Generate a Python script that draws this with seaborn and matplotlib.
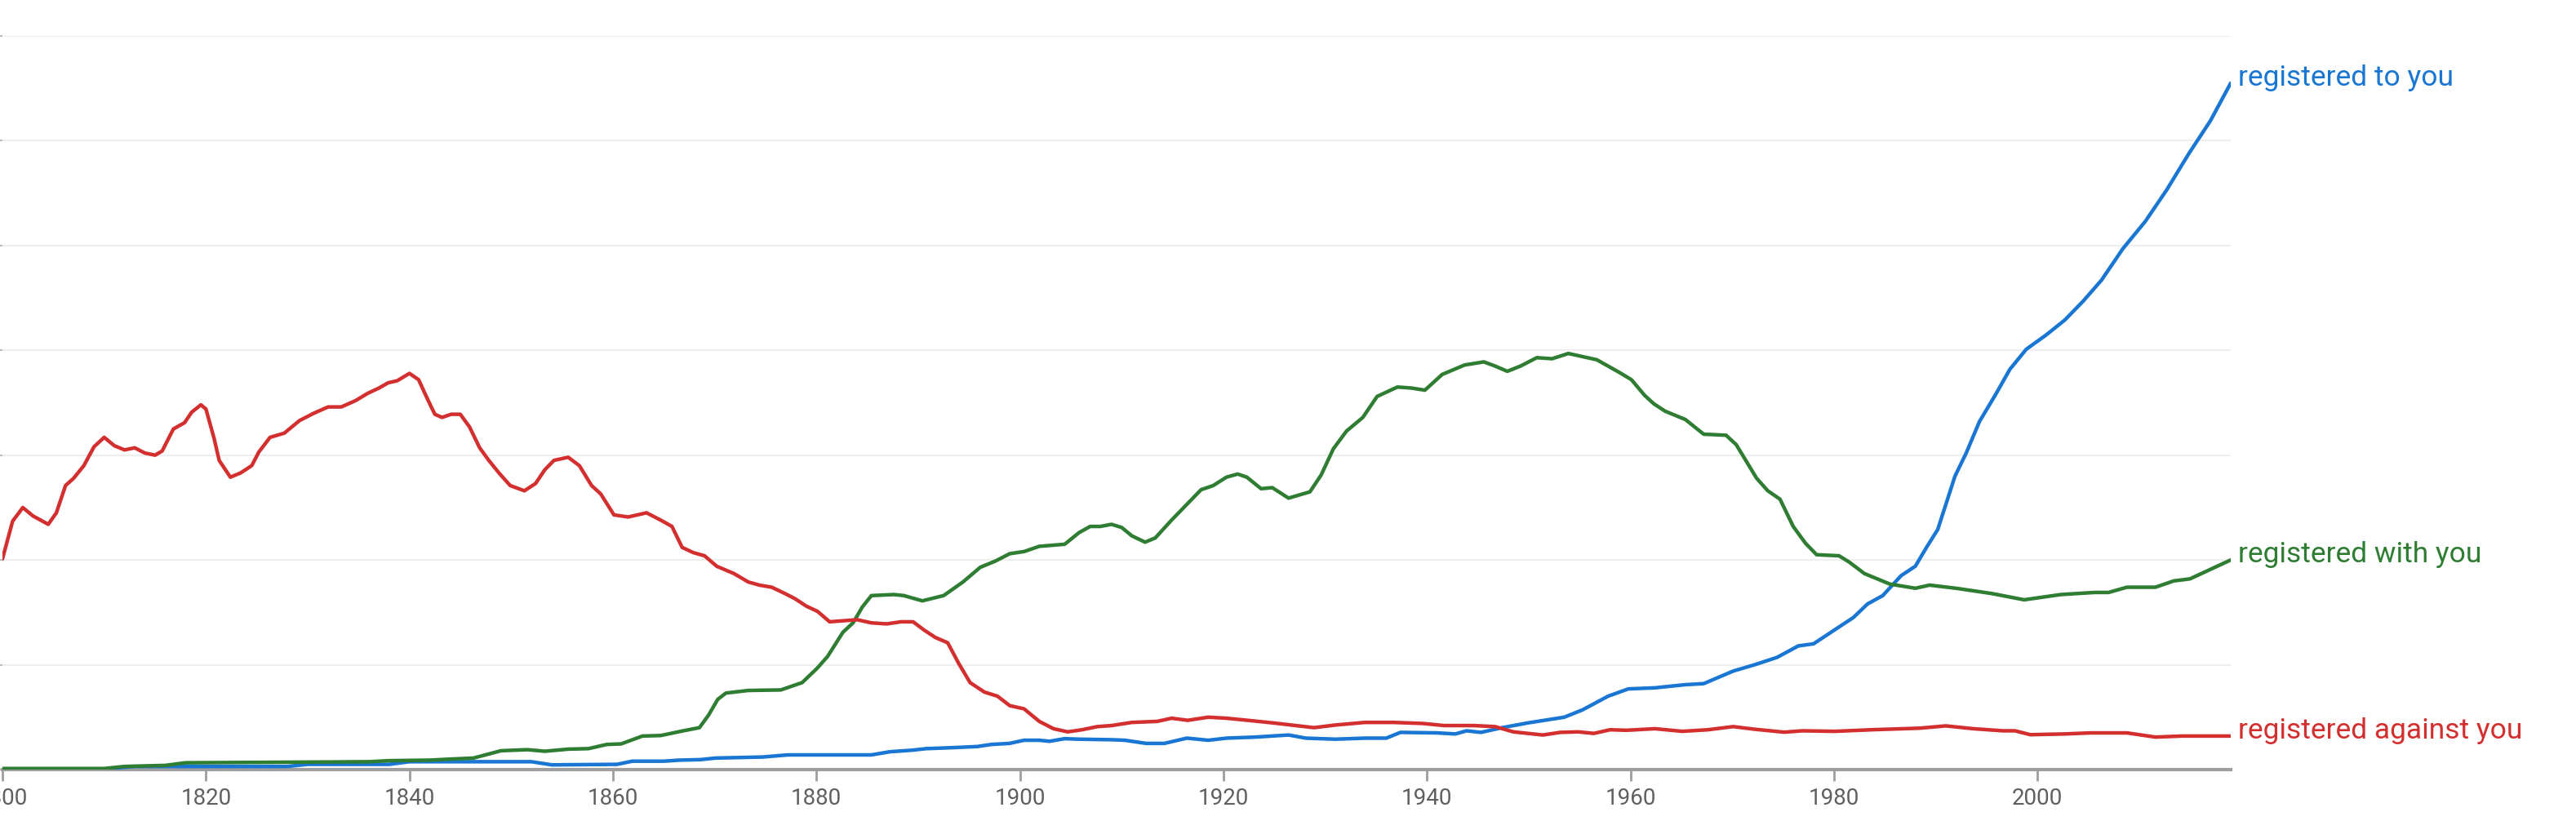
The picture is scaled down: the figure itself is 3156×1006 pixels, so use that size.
import matplotlib
matplotlib.use("Agg")
import matplotlib.pyplot as plt
import pandas as pd
import seaborn as sns

# ---------------- data ----------------
series_names = ["registered to you", "registered with you", "registered against you"]
series_colors = ["#1976d2", "#2e7d32", "#d32f2f"]
x_ticks = [1800, 1820, 1840, 1860, 1880, 1900, 1920, 1940, 1960, 1980, 2000]
y_grid = [0, 1, 2, 3, 4, 5, 6, 7]

to_years = [1800, 1810, 1813, 1828, 1830, 1838, 1840, 1852, 1854, 1860.4, 1861.9, 1865,
            1866.5, 1868.6, 1870.1, 1874.7, 1877.2, 1885.4, 1887.2, 1889.4, 1890.8, 1893.6,
            1895.8, 1897.2, 1899, 1900.4, 1901.9, 1902.9, 1904.4, 1905.8, 1909, 1910.3,
            1912.4, 1914.2, 1916.4, 1918.5, 1920.3, 1923.1, 1926.4, 1928.1, 1931, 1933.9,
            1936, 1937.4, 1941, 1942.8, 1943.9, 1945.3, 1947.4, 1949.9, 1953.5, 1955.3,
            1957.8, 1959.8, 1962.4, 1965.4, 1967.2, 1970.1, 1972.2, 1974.4, 1976.5, 1978,
            1979.4, 1980.8, 1981.9, 1983.3, 1984.8, 1986.6, 1988, 1989.1, 1990.2, 1990.9,
            1991.9, 1993, 1994.3, 1995.9, 1997.3, 1998.9, 2000.9, 2002.7, 2004.5, 2006.3,
            2008.4, 2010.6, 2012.7, 2014.9, 2017, 2019]
to_values = [0.005, 0.005, 0.03, 0.03, 0.05, 0.05, 0.075, 0.075, 0.045, 0.05, 0.08, 0.08,
             0.09, 0.095, 0.11, 0.12, 0.14, 0.14, 0.17, 0.185, 0.20, 0.21,
             0.22, 0.24, 0.25, 0.28, 0.28, 0.27, 0.295, 0.29, 0.285, 0.28,
             0.25, 0.25, 0.30, 0.28, 0.30, 0.31, 0.33, 0.30, 0.29, 0.30,
             0.30, 0.355, 0.35, 0.34, 0.37, 0.355, 0.40, 0.445, 0.50, 0.57,
             0.70, 0.77, 0.78, 0.81, 0.82, 0.94, 1.00, 1.07, 1.18, 1.20,
             1.29, 1.38, 1.45, 1.58, 1.66, 1.85, 1.94, 2.12, 2.29, 2.50,
             2.80, 3.02, 3.32, 3.58, 3.82, 4.01, 4.15, 4.29, 4.47, 4.67,
             4.97, 5.23, 5.53, 5.88, 6.19, 6.55]

with_years = [1800, 1810, 1812, 1816, 1818, 1836, 1838, 1842, 1844, 1846.3, 1849, 1851.6,
              1853.3, 1855.6, 1857.6, 1859.4, 1860.8, 1862.9, 1864.7, 1866.9, 1868.5, 1869.4,
              1870.3, 1871.1, 1873.3, 1876.5, 1878.6, 1880.1, 1881.1, 1882.6, 1883.6, 1884.5,
              1885.4, 1887.6, 1888.6, 1890.4, 1892.5, 1894.4, 1896.1, 1897.6, 1899, 1900.4,
              1901.9, 1904.4, 1905.8, 1906.9, 1907.9, 1909, 1910, 1911, 1912.3, 1913.3,
              1914.9, 1916.4, 1917.8, 1919, 1920.3, 1921.4, 1922.3, 1923.7, 1924.8, 1926.4,
              1928.5, 1929.6, 1930.8, 1932.1, 1933.7, 1935.1, 1937.1, 1938.5, 1939.8, 1941.5,
              1943.7, 1945.6, 1946.7, 1947.9, 1949.2, 1950.8, 1952.3, 1953.9, 1955.3, 1956.7,
              1958.9, 1960.1, 1961.4, 1962.3, 1963.4, 1965.4, 1967.2, 1969.4, 1970.4, 1972.4,
              1973.5, 1974.7, 1976, 1977.2, 1978.3, 1980.5, 1981.5, 1983, 1985.5, 1988,
              1989.4, 1992, 1993.4, 1995.5, 1998.7, 2002.3, 2005.6, 2007, 2008.8, 2011.6,
              2013.4, 2015, 2017, 2019]
with_values = [0.01, 0.01, 0.03, 0.04, 0.065, 0.075, 0.085, 0.09, 0.10, 0.11, 0.18, 0.19,
               0.175, 0.195, 0.20, 0.24, 0.245, 0.32, 0.325, 0.37, 0.40, 0.52,
               0.67, 0.73, 0.755, 0.76, 0.83, 0.97, 1.08, 1.31, 1.40, 1.55,
               1.66, 1.67, 1.66, 1.61, 1.66, 1.79, 1.93, 1.99, 2.06, 2.08,
               2.13, 2.15, 2.26, 2.32, 2.32, 2.34, 2.31, 2.23, 2.17, 2.21,
               2.38, 2.53, 2.67, 2.71, 2.79, 2.82, 2.79, 2.68, 2.69, 2.59,
               2.65, 2.81, 3.06, 3.23, 3.36, 3.56, 3.65, 3.64, 3.62, 3.77,
               3.86, 3.89, 3.85, 3.80, 3.85, 3.93, 3.92, 3.97, 3.94, 3.91,
               3.79, 3.72, 3.57, 3.49, 3.42, 3.34, 3.20, 3.19, 3.10, 2.78,
               2.66, 2.58, 2.32, 2.16, 2.05, 2.04, 1.98, 1.87, 1.77, 1.73,
               1.76, 1.73, 1.71, 1.68, 1.62, 1.67, 1.69, 1.69, 1.74, 1.74,
               1.80, 1.82, 1.91, 2.00]

against_years = [1800, 1801, 1802, 1803, 1804.5, 1805.3, 1806.2, 1807, 1808, 1809, 1810, 1811,
                 1812, 1813, 1814, 1815, 1815.7, 1816.8, 1817.9, 1818.6, 1819.5, 1820, 1820.8,
                 1821.3, 1822.4, 1823.4, 1824.5, 1825.2, 1826.3, 1827.7, 1829.2, 1830.6, 1832,
                 1833.3, 1834.7, 1835.9, 1837, 1837.9, 1838.8, 1840, 1840.9, 1841.8, 1842.5,
                 1843.2, 1844.1, 1845, 1845.9, 1846.9, 1847.8, 1848.8, 1849.9, 1851.3, 1852.4,
                 1853.3, 1854.2, 1855.6, 1856.7, 1857.9, 1858.8, 1860.1, 1861.5, 1863.3, 1864.7,
                 1865.8, 1866.8, 1867.9, 1869, 1870.2, 1871.9, 1873.3, 1874.4, 1875.6, 1876.9,
                 1877.9, 1879, 1880.1, 1881.3, 1882.6, 1884, 1885.4, 1886.9, 1888.3, 1889.5,
                 1890.6, 1891.7, 1892.9, 1894, 1895.1, 1896.5, 1897.8, 1899, 1900.4, 1901.9,
                 1903.3, 1904.7, 1906.1, 1907.6, 1909, 1911, 1913.5, 1914.9, 1916.5, 1918.5,
                 1920.3, 1922.4, 1924.9, 1926.7, 1928.9, 1931, 1933.9, 1936.7, 1939.6, 1941.7,
                 1944.6, 1946.7, 1948.5, 1951.4, 1953.1, 1954.9, 1956.4, 1958, 1959.6, 1962.4,
                 1965.1, 1967.6, 1970.1, 1972.2, 1975.1, 1976.9, 1980.1, 1983.7, 1988.4, 1991,
                 1993.7, 1996.6, 1997.8, 1999.3, 2002.7, 2005.2, 2008.8, 2011.6, 2014.2, 2019]
against_values = [2.01, 2.37, 2.50, 2.42, 2.34, 2.45, 2.71, 2.78, 2.90, 3.08, 3.17, 3.09,
                  3.05, 3.07, 3.02, 3.00, 3.04, 3.25, 3.31, 3.41, 3.48, 3.44, 3.16,
                  2.95, 2.79, 2.83, 2.90, 3.03, 3.17, 3.21, 3.33, 3.40, 3.46,
                  3.46, 3.52, 3.59, 3.64, 3.69, 3.71, 3.78, 3.72, 3.53, 3.39,
                  3.36, 3.39, 3.39, 3.27, 3.07, 2.95, 2.83, 2.71, 2.66, 2.73,
                  2.86, 2.95, 2.98, 2.90, 2.71, 2.63, 2.43, 2.41, 2.45, 2.38,
                  2.32, 2.12, 2.07, 2.04, 1.94, 1.87, 1.79, 1.76, 1.74, 1.68,
                  1.63, 1.56, 1.51, 1.41, 1.42, 1.43, 1.40, 1.39, 1.41, 1.41,
                  1.33, 1.26, 1.21, 1.01, 0.83, 0.74, 0.70, 0.61, 0.58, 0.46,
                  0.39, 0.36, 0.38, 0.41, 0.42, 0.45, 0.46, 0.49, 0.47, 0.50,
                  0.49, 0.47, 0.445, 0.425, 0.40, 0.425, 0.45, 0.45, 0.44, 0.42,
                  0.42, 0.41, 0.36, 0.33, 0.355, 0.36, 0.345, 0.38, 0.375, 0.39,
                  0.365, 0.38, 0.41, 0.385, 0.357, 0.37, 0.365, 0.38, 0.395, 0.417,
                  0.39, 0.37, 0.37, 0.333, 0.34, 0.35, 0.35, 0.31, 0.32, 0.32]

all_years = [to_years, with_years, against_years]
all_values = [to_values, with_values, against_values]

# ---------------- figure ----------------
sns.set_theme(style="white")
plt.rcParams["font.family"] = ["Roboto", "DejaVu Sans"]

W, H = 3156, 1006
fig = plt.figure(figsize=(W / 100, H / 100), dpi=100)
left_px, right_px, top_px, bottom_px = 3, 2733, 44, 943
ax = fig.add_axes([left_px / W, 1 - bottom_px / H,
                   (right_px - left_px) / W, (bottom_px - top_px) / H])

df = pd.concat(
    [pd.DataFrame({"year": yrs, "value": vals, "series": name})
     for name, yrs, vals in zip(series_names, all_years, all_values)],
    ignore_index=True,
)

sns.lineplot(data=df, x="year", y="value", hue="series", hue_order=series_names,
             palette=series_colors, estimator=None, sort=True, linewidth=3.2,
             legend=False, ax=ax, zorder=3)
for ln in ax.lines:
    ln.set_solid_capstyle("round")
    ln.set_solid_joinstyle("round")

ax.set_xlim(1800, 2019)
ax.set_ylim(0, 7)
ax.set_xticks(x_ticks)
ax.set_xticklabels([str(t) for t in x_ticks])
ax.set_yticks(y_grid)
ax.set_yticklabels([])
ax.set_xlabel("")
ax.set_ylabel("")

ax.yaxis.grid(True, color="#eeeeee", linewidth=1.5)
ax.xaxis.grid(False)
ax.set_axisbelow(True)
for s in ["top", "right", "left"]:
    ax.spines[s].set_visible(False)
ax.spines["bottom"].set_color("#9e9e9e")
ax.spines["bottom"].set_linewidth(3)

ax.tick_params(axis="x", bottom=True, length=10, width=2, color="#9e9e9e",
               labelsize=20, labelcolor="#5f5f5f", pad=6, direction="out")
ax.tick_params(axis="y", left=True, length=2.2, width=1.5, color="#bdbdbd",
               direction="out")

for name, color, yrs, vals in zip(series_names, series_colors, all_years, all_values):
    ax.annotate(name, xy=(yrs[-1], vals[-1]), xytext=(6.5, -2.2),
                textcoords="offset points", ha="left", va="baseline",
                fontsize=25.5, color=color, annotation_clip=False)

fig.savefig("out.png", dpi=100, facecolor="white")
